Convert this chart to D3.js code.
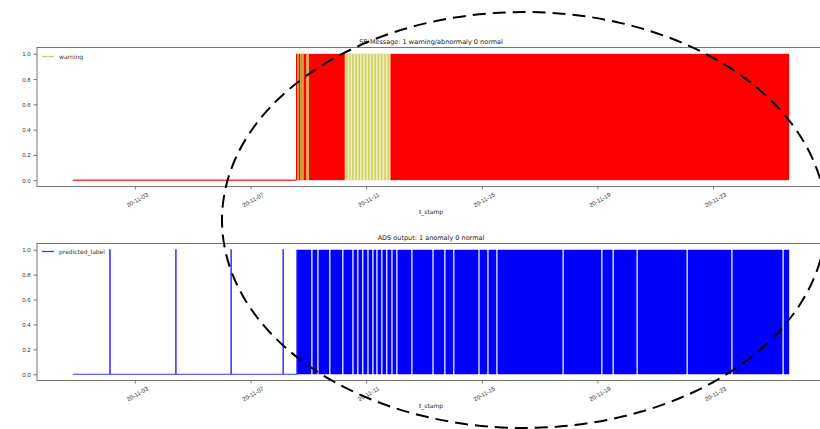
<!DOCTYPE html>
<html>
<head>
<meta charset="utf-8">
<script src="https://cdn.jsdelivr.net/npm/d3@7"></script>
<style>
  html, body { margin: 0; padding: 0; background: #fff; }
  svg { display: block; font-family: "DejaVu Sans", sans-serif; }
</style>
</head>
<body>
<svg id="chart" width="820" height="429"></svg>
<script>
// ---- data (times are day offsets from the first sample) ----
const seriesStart = new Date(2020, 9, 31, 20, 30);
const seriesEndDay = 24.78;

// SR message: red fill where the warning/abnormal flag is on
const alarmRuns = [[7.72, 9.41], [10.97, 24.78]];
// short warning pulses inside the first alarm run
const warningPulses = [7.79, 7.89, 7.96, 8.10, 8.14];
// dense toggling warning band between the two alarm runs
const warningBand = [9.41, 10.97];
const warningBandPulses = [9.48, 9.58, 9.69, 9.80, 9.91, 10.02, 10.13, 10.24, 10.35, 10.46, 10.57, 10.68, 10.80, 10.92];

// ADS output: predicted_label
const isolatedAnomalies = [1.28, 3.56, 5.47, 7.27];
const anomalyBlock = [7.75, 24.78];
const normalGaps = [8.27, 8.48, 8.89, 9.34, 9.69, 9.86, 10.03, 10.21, 10.38, 10.52, 10.69, 10.86, 11.04, 11.21,
                    11.73, 12.46, 12.87, 13.18, 14.05, 14.36, 14.67, 16.96, 18.30, 18.69, 19.52, 21.25, 22.80, 24.57];

const tickDates = ["2020-11-03", "2020-11-07", "2020-11-11", "2020-11-15", "2020-11-19", "2020-11-23"];
const tickLabels = ["20-11-03", "20-11-07", "20-11-11", "20-11-15", "20-11-19", "20-11-23"];
const yTicks = [0.0, 0.2, 0.4, 0.6, 0.8, 1.0];

const titles = ["SR Message: 1 warning/abnormaly 0 normal", "ADS output: 1 anomaly 0 normal"];
const xLabel = "t_stamp";

// ---- helpers ----
const DAY = 864e5;
const toDate = d => new Date(seriesStart.getTime() + d * DAY);
const parseTick = d3.timeParse("%Y-%m-%d");

const svg = d3.select("#chart");
const padDays = seriesEndDay * 0.05;
const x = d3.scaleTime()
  .domain([toDate(-padDays), toDate(seriesEndDay + padDays)])
  .range([37, 825]);

const panels = [
  { top: 47.5, bottom: 186.5 },
  { top: 243.5, bottom: 380.5 }
];

function drawFrame(g, y, p, idx) {
  const ya = g.append("g").attr("transform", `translate(${x.range()[0]},0)`)
    .call(d3.axisLeft(y).tickValues(yTicks).tickFormat(d3.format(".1f")).tickSize(3.5).tickPadding(3));
  ya.select(".domain").remove();
  ya.selectAll("line").attr("stroke", "#444").attr("stroke-width", 0.7);
  ya.selectAll("text").attr("font-size", 6).attr("fill", "#333");

  const xa = g.append("g").attr("transform", `translate(0,${p.bottom})`)
    .call(d3.axisBottom(x).tickValues(tickDates.map(parseTick)).tickSize(3).tickFormat((d, i) => tickLabels[i]));
  xa.select(".domain").remove();
  xa.selectAll("line").attr("stroke", "#444").attr("stroke-width", 0.7);
  xa.selectAll("text")
    .attr("font-size", 6).attr("fill", "#333")
    .attr("text-anchor", "middle")
    .attr("dy", 0)
    .attr("transform", "translate(0,10) rotate(-30)");

  const [x0, x1] = x.range();
  g.append("rect").attr("x", x0).attr("y", p.top).attr("width", x1 - x0).attr("height", p.bottom - p.top)
    .attr("fill", "none").attr("stroke", "#555").attr("stroke-width", 0.8);

  const cx = (x0 + x1) / 2;
  g.append("text").attr("x", cx).attr("y", p.top - 4).attr("text-anchor", "middle")
    .attr("font-size", 6.5).attr("fill", "#222").text(titles[idx]);
  g.append("text").attr("x", cx).attr("y", p.bottom + 27).attr("text-anchor", "middle")
    .attr("font-size", 6).attr("fill", "#222").text(xLabel);
}

// ---- panel 1: SR message ----
{
  const p = panels[0];
  const y = d3.scaleLinear().domain([-0.05, 1.05]).range([p.bottom, p.top]);
  const g = svg.append("g");
  const marks = g.append("g");

  marks.append("path")
    .attr("d", d3.line()([[x(toDate(0)), y(0)], [x(toDate(alarmRuns[0][0])), y(0)]]))
    .attr("stroke", "#ff3a3a").attr("stroke-width", 1.6).attr("fill", "none");

  marks.selectAll("rect.alarm").data(alarmRuns).join("rect").attr("class", "alarm")
    .attr("x", d => x(toDate(d[0])))
    .attr("width", d => x(toDate(d[1])) - x(toDate(d[0])))
    .attr("y", y(1)).attr("height", y(0) - y(1))
    .attr("fill", "#ff0000");

  marks.append("rect")
    .attr("x", x(toDate(warningBand[0])))
    .attr("width", x(toDate(warningBand[1])) - x(toDate(warningBand[0])))
    .attr("y", y(1)).attr("height", y(0) - y(1))
    .attr("fill", "#e2e38f");

  marks.selectAll("line.band").data(warningBandPulses).join("line").attr("class", "band")
    .attr("x1", d => x(toDate(d))).attr("x2", d => x(toDate(d)))
    .attr("y1", y(1)).attr("y2", y(0))
    .attr("stroke", "#cfcf60").attr("stroke-width", 1.2);
  marks.selectAll("line.bandgap").data(warningBandPulses).join("line").attr("class", "bandgap")
    .attr("x1", d => x(toDate(d)) + 1.6).attr("x2", d => x(toDate(d)) + 1.6)
    .attr("y1", y(1)).attr("y2", y(0))
    .attr("stroke", "#f3f3d6").attr("stroke-width", 0.8);

  marks.selectAll("line.pulse").data(warningPulses).join("line").attr("class", "pulse")
    .attr("x1", d => x(toDate(d))).attr("x2", d => x(toDate(d)))
    .attr("y1", y(1)).attr("y2", y(0))
    .attr("stroke", "#d2d25a").attr("stroke-width", 1.4);

  drawFrame(g, y, p, 0);

  const lg = g.append("g").attr("transform", `translate(${x.range()[0] + 5},${p.top + 9})`);
  lg.append("line").attr("x1", 0).attr("x2", 12).attr("stroke", "#c8c860").attr("stroke-width", 1.3);
  lg.append("text").attr("x", 17).attr("y", 2).attr("font-size", 6).attr("fill", "#333").text("warning");
}

// ---- panel 2: ADS output ----
{
  const p = panels[1];
  const y = d3.scaleLinear().domain([-0.05, 1.05]).range([p.bottom, p.top]);
  const g = svg.append("g");

  // step series of predicted_label built from the runs above
  const half = 0.021, spike = 0.012;
  const pts = [{ t: 0, v: 0 }];
  isolatedAnomalies.forEach(s => { pts.push({ t: s, v: 1 }, { t: s + spike, v: 0 }); });
  const blockIndex = pts.length;
  pts.push({ t: anomalyBlock[0], v: 1 });
  normalGaps.forEach(gp => { pts.push({ t: gp - half, v: 0 }, { t: gp + half, v: 1 }); });
  pts.push({ t: anomalyBlock[1], v: 1 });

  g.append("path").datum(pts)
    .attr("d", d3.area().curve(d3.curveStepAfter)
      .x(d => x(toDate(d.t))).y0(y(0)).y1(d => y(d.v)))
    .attr("fill", "#0000ff");
  // baseline and isolated spikes drawn as a line
  g.append("path").datum(pts.slice(0, blockIndex + 1))
    .attr("d", d3.line().curve(d3.curveStepAfter)
      .x(d => x(toDate(d.t))).y(d => y(d.v)))
    .attr("fill", "none").attr("stroke", "#3535ff").attr("stroke-width", 1.1);

  drawFrame(g, y, p, 1);

  const lg = g.append("g").attr("transform", `translate(${x.range()[0] + 5},${p.top + 8})`);
  lg.append("line").attr("x1", 0).attr("x2", 12).attr("stroke", "#3b3bff").attr("stroke-width", 1.3);
  lg.append("text").attr("x", 17).attr("y", 2).attr("font-size", 6).attr("fill", "#333").text("predicted_label");
}

// ---- dashed highlight around the anomaly period ----
svg.append("ellipse")
  .attr("cx", 524).attr("cy", 220).attr("rx", 302).attr("ry", 208)
  .attr("fill", "none").attr("stroke", "#000").attr("stroke-width", 2)
  .attr("stroke-dasharray", "13,7");
</script>
</body>
</html>
